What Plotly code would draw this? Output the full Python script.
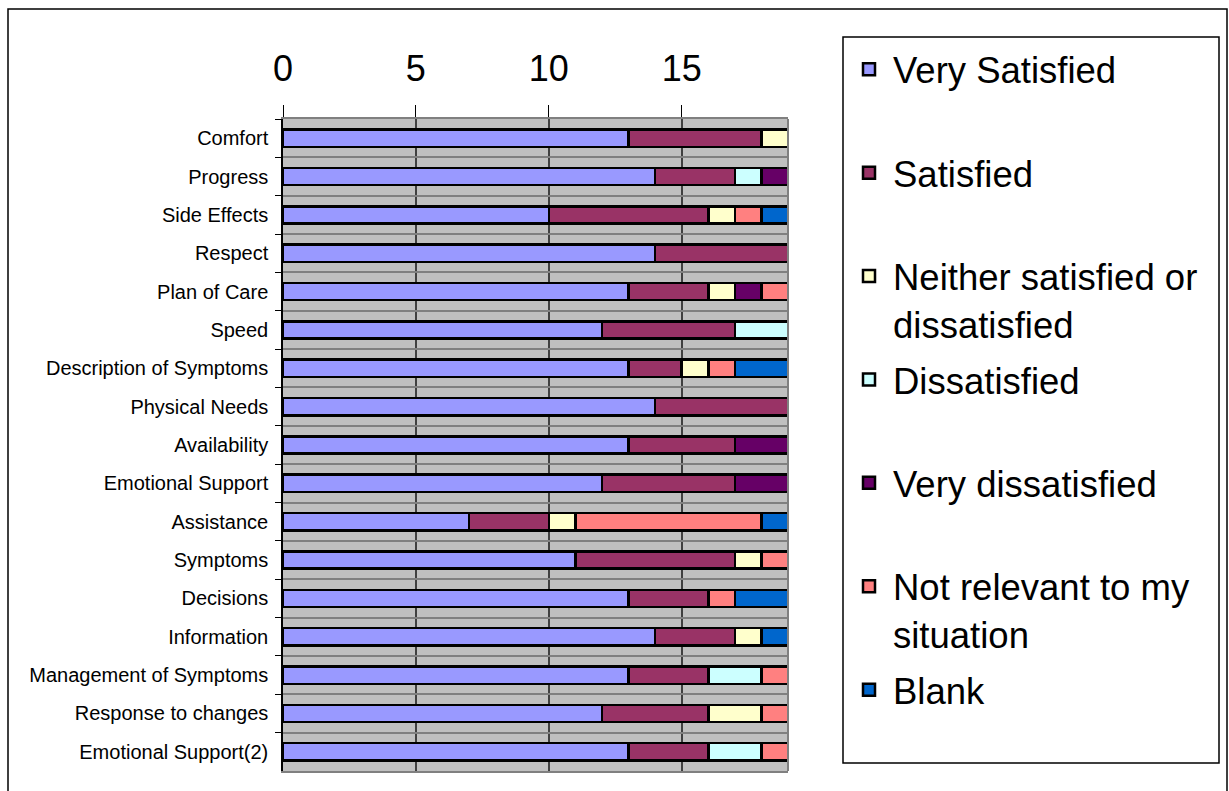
import plotly.graph_objects as go

categories = [
    "Comfort", "Progress", "Side Effects", "Respect", "Plan of Care", "Speed",
    "Description of Symptoms", "Physical Needs", "Availability", "Emotional Support",
    "Assistance", "Symptoms", "Decisions", "Information", "Management of Symptoms",
    "Response to changes", "Emotional Support(2)",
]

very_satisfied      = [13, 14, 10, 14, 13, 12, 13, 14, 13, 12, 7, 11, 13, 14, 13, 12, 13]
satisfied           = [5, 3, 6, 5, 3, 5, 2, 5, 4, 5, 3, 6, 3, 3, 3, 4, 3]
neither             = [1, 0, 1, 0, 1, 0, 1, 0, 0, 0, 1, 1, 0, 1, 0, 2, 0]
dissatisfied        = [0, 1, 0, 0, 0, 2, 0, 0, 0, 0, 0, 0, 0, 0, 2, 0, 2]
very_dissatisfied   = [0, 1, 0, 0, 1, 0, 0, 0, 2, 2, 0, 0, 0, 0, 0, 0, 0]
not_relevant        = [0, 0, 1, 0, 1, 0, 1, 0, 0, 0, 7, 1, 1, 0, 1, 1, 1]
blank               = [0, 0, 1, 0, 0, 0, 2, 0, 0, 0, 1, 0, 2, 1, 0, 0, 0]

x_ticks = [0, 5, 10, 15]

series = [
    ("Very Satisfied<br> ", very_satisfied, "#9999FF"),
    ("Satisfied<br> ", satisfied, "#993366"),
    ("Neither satisfied or<br>dissatisfied", neither, "#FFFFCC"),
    ("Dissatisfied<br> ", dissatisfied, "#CCFFFF"),
    ("Very dissatisfied<br> ", very_dissatisfied, "#660066"),
    ("Not relevant to my<br>situation", not_relevant, "#FF8080"),
    ("Blank", blank, "#0066CC"),
]

FONT = "Arial, Liberation Sans, sans-serif"

fig = go.Figure()
for i, (name, vals, color) in enumerate(series):
    fig.add_trace(go.Bar(
        y=categories, x=vals, name=name, orientation="h",
        legendgroup=f"g{i}",
        marker=dict(color=color, line=dict(color="black", width=2.5)),
    ))

W, H = 1229, 791
L, R, T, B = 283, 441, 119, 20
pw, ph = W - L - R, H - T - B

def px_x(v):
    return (v - L) / pw

def px_y(v):
    return 1 - (v - T) / ph

fig.update_layout(
    width=W, height=H,
    margin=dict(l=L, r=R, t=T, b=B),
    barmode="stack", bargap=0.55,
    paper_bgcolor="white", plot_bgcolor="#C0C0C0",
    font=dict(family=FONT, color="black"),
    xaxis=dict(
        side="top", range=[0, 19], tickvals=x_ticks,
        ticks="outside", ticklen=12, tickcolor="black", tickwidth=1,
        tickfont=dict(size=36, family=FONT),
        ticklabelstandoff=10,
        showgrid=True, gridcolor="#404040", gridwidth=1.5,
        showline=True, linecolor="#808080", linewidth=2, mirror=True,
        zeroline=False, fixedrange=True,
    ),
    yaxis=dict(
        type="category", autorange="reversed", tickson="boundaries",
        ticks="outside", ticklen=6, tickcolor="black",
        tickfont=dict(size=20, family=FONT),
        ticklabelstandoff=9,
        showgrid=True, gridcolor="#808080", gridwidth=2,
        showline=True, linecolor="black", linewidth=1.5,
        fixedrange=True,
    ),
    legend=dict(
        x=px_x(845), y=px_y(39), xanchor="left", yanchor="top",
        bgcolor="rgba(0,0,0,0)", borderwidth=0,
        font=dict(size=36.5, family=FONT),
        traceorder="grouped", tracegroupgap=5.5, valign="top",
        itemwidth=38,
        maxheight=1.0,
    ),
    shapes=[
        # right edge of the plotting area
        dict(type="line", xref="paper", yref="paper", x0=1, x1=1, y0=0, y1=1,
             line=dict(color="#808080", width=2)),
        # outer chart frame
        dict(type="rect", xref="paper", yref="paper",
             x0=px_x(8), x1=px_x(1227), y0=px_y(820), y1=px_y(9),
             line=dict(color="black", width=1.5), fillcolor="rgba(0,0,0,0)",
             layer="below"),
        # legend frame
        dict(type="rect", xref="paper", yref="paper",
             x0=px_x(843), x1=px_x(1219), y0=px_y(763), y1=px_y(37),
             line=dict(color="black", width=1.5), fillcolor="white",
             layer="below"),
    ],
)

fig.write_html("out.html")
